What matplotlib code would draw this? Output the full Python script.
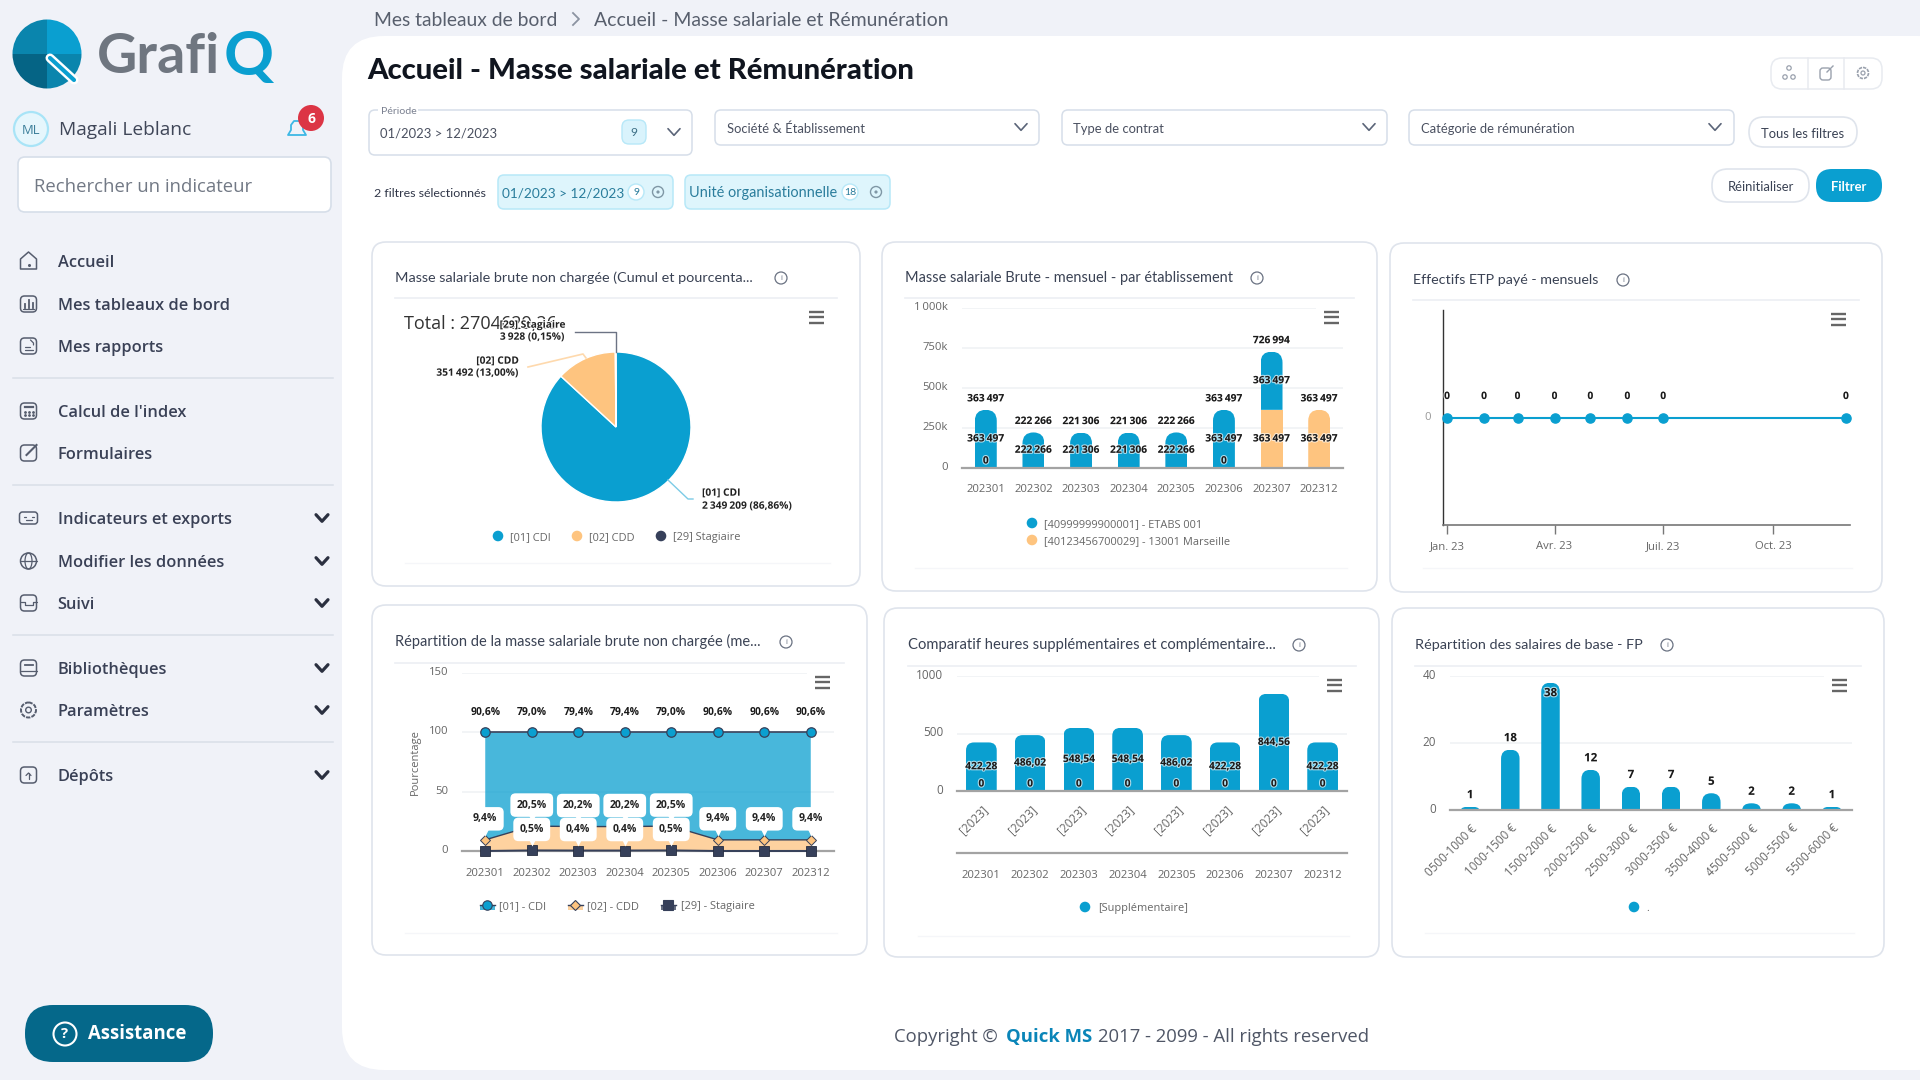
import datetime as dt
import matplotlib
matplotlib.use("Agg")
import matplotlib.pyplot as plt
import matplotlib.dates as mdates
import matplotlib.patheffects as pe
from matplotlib.patches import FancyBboxPatch, Circle, Rectangle, Wedge, Polygon
from matplotlib.path import Path
from matplotlib.transforms import ScaledTranslation

plt.rcParams['font.family'] = ['Open Sans', 'DejaVu Sans']

# ---------------- data ----------------
pie_labels = ["[01] CDI", "[02] CDD", "[29] Stagiaire"]
pie_values = [2349209, 351492, 3928]
pie_pcts = ["86,86%", "13,00%", "0,15%"]

months = ["202301", "202302", "202303", "202304", "202305", "202306", "202307", "202312"]
etab_001 = [363497, 222266, 221306, 221306, 222266, 363497, 363497, None]
etab_marseille = [0, None, None, None, None, 0, 363497, 363497]
etab_names = ["[40999999900001] - ETABS 001", "[40123456700029] - 13001 Marseille"]
mass_ticks = [0, 250000, 500000, 750000, 1000000]
mass_tick_labels = ["0", "250k", "500k", "750k", "1\u2009000k"]

etp_dates = [dt.date(2023, 1, 1), dt.date(2023, 2, 1), dt.date(2023, 3, 1), dt.date(2023, 4, 1),
             dt.date(2023, 5, 1), dt.date(2023, 6, 1), dt.date(2023, 7, 1), dt.date(2023, 12, 1)]
etp_values = [0, 0, 0, 0, 0, 0, 0, 0]
etp_tick_dates = [dt.date(2023, 1, 1), dt.date(2023, 4, 1), dt.date(2023, 7, 1), dt.date(2023, 10, 1)]
etp_tick_labels = ["Jan. 23", "Avr. 23", "Juil. 23", "Oct. 23"]

pct_cdi = [90.6, 79.0, 79.4, 79.4, 79.0, 90.6, 90.6, 90.6]
pct_cdd = [9.4, 20.5, 20.2, 20.2, 20.5, 9.4, 9.4, 9.4]
pct_sta = [0.0, 0.5, 0.4, 0.4, 0.5, 0.0, 0.0, 0.0]
pct_names = ["[01] - CDI", "[02] - CDD", "[29] - Stagiaire"]

hours_sup = [422.28, 486.02, 548.54, 548.54, 486.02, 422.28, 844.56, 422.28]
hours_comp = [0, 0, 0, 0, 0, 0, 0, 0]
hours_years = ["[2023]"] * 8

sal_bins = ["0500-1000 €", "1000-1500 €", "1500-2000 €", "2000-2500 €", "2500-3000 €",
            "3000-3500 €", "3500-4000 €", "4500-5000 €", "5000-5500 €", "5500-6000 €"]
sal_counts = [1, 18, 38, 12, 7, 7, 5, 2, 2, 1]

nav_items = [("Accueil", 261, False, 'home'), ("Mes tableaux de bord", 304, False, 'dash'),
             ("Mes rapports", 346, False, 'report'), ("Calcul de l'index", 411, False, 'calc'),
             ("Formulaires", 453, False, 'form'), ("Indicateurs et exports", 518, True, 'wide'),
             ("Modifier les données", 561, True, 'globe'), ("Suivi", 603, True, 'inbox'),
             ("Bibliothèques", 668, True, 'book'), ("Paramètres", 710, True, 'gear'),
             ("Dépôts", 775, True, 'depot')]
nav_seps = [378, 485, 635, 742]

# ---------------- style ----------------
BLUE, ORANGE, NAVY = '#0a9fd0', '#fec47f', '#36405a'
GREY, DARK, BG = '#666666', '#2f3547', '#f0f2f8'
UI = ['Lato', 'DejaVu Sans']
NUM = ['Open Sans', 'DejaVu Sans']
W, H = 1920, 1080
fig = plt.figure(figsize=(19.2, 10.8), dpi=100, facecolor=BG)
renderer = fig.canvas.get_renderer()


def px_axes(x0, x1, ytop, ybot, z=1):
    ax = fig.add_axes([x0 / W, 1 - ybot / H, (x1 - x0) / W, (ybot - ytop) / H], zorder=z)
    ax.patch.set_alpha(0)
    return ax


def full_axes(z):
    ax = fig.add_axes([0, 0, 1, 1], zorder=z)
    ax.set_xlim(0, W)
    ax.set_ylim(H, 0)
    ax.axis('off')
    ax.patch.set_alpha(0)
    return ax


bg = full_axes(0)
ov = full_axes(3)


def T(x, y, s, px=13, color=DARK, ha='left', va='center', weight='normal', family=UI, w=None, ax=ov, **kw):
    t = ax.text(x, y + px * 0.12, s, fontsize=px * 0.72, color=color, ha=ha, va=va, fontweight=weight,
                family=family, **kw)
    if w:
        cur = t.get_window_extent(renderer).width
        t.set_fontsize(t.get_fontsize() * w / cur)
    return t


def rbox(ax, x0, y0, x1, y1, r, fc='white', ec='none', lw=1, z=1):
    p = FancyBboxPatch((x0 + r, y0 + r), x1 - x0 - 2 * r, y1 - y0 - 2 * r,
                       boxstyle=f"round,pad={r},rounding_size={r}", fc=fc, ec=ec, lw=lw, zorder=z)
    ax.add_patch(p)
    return p


def chevron(x, y, s=5, color='#5a6478', lw=1.3, ax=ov):
    ax.plot([x - s, x, x + s], [y - s * 0.55, y + s * 0.55, y - s * 0.55], color=color, lw=lw, solid_capstyle='round')


def hamburger(x, y):
    ov.add_patch(Rectangle((x - 15, y - 13), 30, 26, fc='white', ec='none', zorder=2))
    for dy in (-5.5, 0, 5.5):
        ov.plot([x - 7.5, x + 7.5], [y + dy, y + dy], color='#666666', lw=1.7, zorder=3, solid_capstyle='butt')


def info(x, y):
    ov.add_patch(Circle((x, y), 6, fc='white', ec='#6a7282', lw=0.9))
    T(x, y - 0.5, "i", 8, '#6a7282', ha='center', family=NUM)


def card(x0, y0, x1, y1, title, tw, tx, ty, ix, sep, foot):
    rbox(bg, x0, y0, x1, y1, 14, ec='#dfe4ec', lw=1.2)
    T(tx, ty, title, 15, '#3a4254', w=tw)
    info(ix, ty + 2)
    bg.plot([tx, x1 - 23], [sep, sep], color='#eceff4', lw=1.2, zorder=2)
    bg.plot([tx + 10, x1 - 30], [foot, foot], color='#f5f6f9', lw=1, zorder=2)


def nav_icon(kind, y, c='#565d6e'):
    x = 28.5
    line = dict(color=c, lw=0.9, solid_capstyle='round')
    if kind == 'home':
        ov.add_patch(Polygon([(x - 8, y - 2), (x, y - 9), (x + 8, y - 2), (x + 8, y + 8), (x - 8, y + 8)],
                             closed=True, fc='none', ec=c, lw=1.1, joinstyle='round'))
        ov.plot([x], [y + 4], marker='o', ms=1.2, color=c)
    elif kind == 'wide':
        rbox(ov, x - 9, y - 6, x + 9, y + 6, 3, fc='none', ec=c, lw=1.1)
        ov.plot([x - 5, x - 3], [y - 1, y - 1], **line)
        ov.plot([x + 3, x + 5], [y - 1, y - 1], **line)
        ov.plot([x - 3, x + 3], [y + 2, y + 2], **line)
    elif kind == 'globe':
        ov.add_patch(Circle((x, y), 8, fc='none', ec=c, lw=1.1))
        ov.plot([x - 8, x + 8], [y, y], **line)
        ov.add_patch(matplotlib.patches.Ellipse((x, y), 7, 16, fc='none', ec=c, lw=0.9))
    elif kind == 'gear':
        ov.add_patch(Circle((x, y), 7.5, fc='none', ec=c, lw=1.4, ls=(0, (2.2, 0.6))))
        ov.add_patch(Circle((x, y), 2.8, fc='none', ec=c, lw=1))
    else:
        rbox(ov, x - 8, y - 8, x + 8, y + 8, 4, fc='none', ec=c, lw=1.1)
        if kind == 'dash':
            for dx, h in ((-4, 4), (0, 8), (4, 5)):
                ov.plot([x + dx, x + dx], [y + 4, y + 4 - h], color=c, lw=1.3)
            ov.plot([x - 5.5, x + 5.5], [y + 4.5, y + 4.5], **line)
        elif kind == 'report':
            ov.plot([x - 4, x + 1], [y + 1, y + 1], **line)
            ov.plot([x - 4, x + 4], [y + 4, y + 4], **line)
            ov.plot([x + 2, x + 5, x + 5], [y - 6, y - 3, y - 1], **line)
        elif kind == 'calc':
            ov.plot([x - 4, x + 4], [y - 4, y - 4], color=c, lw=1.6)
            for dx in (-4, 0, 4):
                for dy in (1, 4):
                    ov.plot([x + dx], [y + dy], marker='o', ms=1, color=c)
        elif kind == 'form':
            ov.plot([x - 2, x + 8], [y + 2, y - 8], color=c, lw=1.5)
            ov.add_patch(Rectangle((x + 1, y - 10), 9, 4, fc='none', ec='none'))
        elif kind == 'inbox':
            ov.plot([x - 8, x - 4, x - 4, x + 4, x + 4, x + 8], [y - 1, y - 1, y + 2, y + 2, y - 1, y - 1], **line)
        elif kind == 'book':
            ov.plot([x - 4, x + 4], [y - 3, y - 3], color=c, lw=1.3)
            ov.plot([x - 8, x + 8], [y + 3, y + 3], **line)
        elif kind == 'depot':
            ov.plot([x, x], [y + 4, y - 2], **line)
            ov.plot([x - 2.5, x, x + 2.5], [y + 0.5, y - 2, y + 0.5], **line)


def fmt(v):
    return f"{v:,}".replace(",", "\u2009")


def frc(v):
    return f"{v:.2f}".replace(".", ",")


def lab(ax, x, y, s, dy=0, px=10.2, color='#1a1a1a', halo=True):
    a = ax.annotate(s, (x, y), xytext=(0, dy * 0.72), textcoords='offset points', ha='center', va='center',
                    fontsize=px * 0.72, fontweight='bold', color=color, family=NUM, zorder=6)
    if halo:
        a.set_path_effects([pe.withStroke(linewidth=1.6, foreground=(1, 1, 1, 0.65))])
    return a


def round_top(ax, rect, r_px):
    x, y, w, h = rect.get_x(), rect.get_y(), rect.get_width(), rect.get_height()
    if h <= 0:
        return
    (a, b), (c, d) = ax.transData.transform([(0, 0), (1, 1)])
    rx = min(r_px / abs(c - a), w / 2)
    ry = min(r_px / abs(d - b), h)
    top = y + h
    verts = [(x, y), (x, top - ry), (x, top), (x + rx, top), (x + w - rx, top),
             (x + w, top), (x + w, top - ry), (x + w, y), (x, y)]
    codes = [Path.MOVETO, Path.LINETO, Path.CURVE3, Path.CURVE3, Path.LINETO,
             Path.CURVE3, Path.CURVE3, Path.LINETO, Path.CLOSEPOLY]
    rect.set_clip_path(Path(verts, codes), ax.transData)


def clean(ax, xpad=12, ypad=14, px=11.3, ydy=2):
    for k, s in ax.spines.items():
        s.set_visible(k == 'bottom')
    ax.spines['bottom'].set_color('#a3a3a3')
    ax.spines['bottom'].set_linewidth(1.6)
    ax.set_axisbelow(True)
    ax.grid(axis='y', color='#eff1f4', lw=1.1)
    ax.tick_params(axis='both', length=0, labelsize=px * 0.72, labelcolor=GREY)
    ax.tick_params(axis='x', pad=xpad * 0.72)
    ax.tick_params(axis='y', pad=ypad * 0.72)
    off = ScaledTranslation(0, ydy / 100, fig.dpi_scale_trans)
    for l in ax.get_yticklabels():
        l.set_transform(l.get_transform() + off)


def dot_legend(items, px=11):
    for x, y, color, tx, s in items:
        ov.add_patch(Circle((x, y), 5.3, fc=color, ec='none'))
        T(tx, y, s, px, GREY, family=NUM)


# ---------------- page frame ----------------
rbox(bg, 342, 36, 1960, 1070, 42, fc='white', z=1)

# sidebar: logo
for th1, th2, c in [(0, 90, BLUE), (90, 180, '#0a85ad'), (180, 270, '#056485'), (270, 360, '#0a85ad')]:
    bg.add_patch(Wedge((47, 54), 34.5, -th2, -th1, fc=c, ec='none', zorder=2))
bg.plot([50, 74], [58, 80], color='white', lw=6.5, solid_capstyle='round', zorder=3)
bg.plot([50, 74], [58, 80], color=BLUE, lw=3, solid_capstyle='round', zorder=3)
T(97, 50, "Grafi", 58, '#6f7680', weight='bold', w=123)
T(224, 50, "Q", 58, BLUE, weight='bold', w=50)

# sidebar: user
ov.add_patch(Circle((31, 129), 17, fc='#e6f6fc', ec='#a8e4f7', lw=1.6))
T(31, 128.5, "ML", 13, '#3c7f9a', ha='center', family=NUM)
T(59, 127.5, "Magali Leblanc", 20, '#3f4658', family=NUM, w=133)
ov.add_patch(Polygon([(288, 135), (291, 130), (291, 125), (294, 121), (300, 121), (303, 125), (303, 130), (306, 135)],
                     closed=True, fc='none', ec='#3db8e5', lw=1.3, joinstyle='round'))
ov.add_patch(Circle((311, 118), 13, fc='#dc3545', ec='none'))
T(311, 117, "6", 14, 'white', ha='center', weight='bold', family=NUM)

# sidebar: search
rbox(bg, 18, 157, 331, 212, 7, ec='#d6dee9', lw=1.2, z=2)
T(34, 184.5, "Rechercher un indicateur", 20, '#727985', family=NUM, w=218)

# sidebar: navigation
for name, y, has_sub, kind in nav_items:
    T(57.5, y, name, 16.4, '#3a4156', weight='semibold', family=NUM)
    nav_icon(kind, y)
    if has_sub:
        chevron(322, y, 6, '#2b3040', 2.3)
for y in nav_seps:
    bg.plot([13, 333], [y, y], color='#d9dfe8', lw=1.1, zorder=2)

# sidebar: assistance
rbox(bg, 25, 1005, 213, 1062, 28, fc='#05688a', z=2)
ov.add_patch(Circle((65, 1034), 11.5, fc='none', ec='white', lw=1.5))
T(65, 1032.5, "?", 15, 'white', ha='center', weight='bold', family=NUM)
T(88, 1032, "Assistance", 19, 'white', weight='bold', family=NUM, w=98)

# header
T(374, 18, "Mes tableaux de bord", 19, '#585f6d', w=184)
ov.plot([573, 579, 573], [13, 19, 25], color='#8b93a1', lw=1.3)
T(594, 18, "Accueil - Masse salariale et Rémunération", 19, '#585f6d', w=354)
T(367, 68, "Accueil - Masse salariale et Rémunération", 28, '#10151f', weight='black', w=548)

# filters
for x0, x1, y1, s, tx, ty, cx, cy in [
    (369, 692, 155, "01/2023 > 12/2023", 380, 132, 674, 132),
    (715, 1039, 145, "Société & Établissement", 727, 127, 1021, 127),
    (1062, 1387, 145, "Type de contrat", 1073, 127, 1369, 127),
    (1409, 1734, 145, "Catégorie de rémunération", 1421, 127, 1715, 127)]:
    rbox(bg, x0, 110, x1, y1, 6, ec='#d6dee9', lw=1.1, z=2)
    T(tx, ty, s, 13, '#4a5060')
    chevron(cx, cy, 6, '#5a6478', 1.2)
ov.add_patch(Rectangle((378, 106), 40, 8, fc='white', ec='none'))
T(381, 110, "Période", 10.5, '#7a8090')
rbox(ov, 622, 120, 646, 144, 7, fc='#d9f3fc', ec='#b7e8f8', lw=1)
T(634, 131.5, "9", 12, '#3c6f85', ha='center')
rbox(bg, 1749, 117, 1857, 147, 15, ec='#dfe4ec', lw=1.2, z=2)
T(1803, 132, "Tous les filtres", 13, '#3a4254', ha='center')
rbox(bg, 1712, 169, 1809, 202, 16, ec='#dfe4ec', lw=1.2, z=2)
T(1760.5, 185, "Réinitialiser", 13, '#3a4254', ha='center')
rbox(bg, 1816, 169, 1882, 202, 16, fc=BLUE, z=2)
T(1849, 185, "Filtrer", 13, 'white', ha='center', weight='bold')
rbox(bg, 1771, 58, 1882, 89, 11, ec='#e8ebf0', lw=1.1, z=2)
for x in (1808, 1844):
    bg.plot([x, x], [58, 89], color='#e8ebf0', lw=1.1, zorder=3)
for cx, cy in [(1789, 68), (1785, 77), (1793, 77)]:
    ov.add_patch(Circle((cx, cy), 2.2, fc='none', ec='#9aa1ad', lw=0.9))
rbox(ov, 1820, 68, 1831, 80, 3, fc='none', ec='#9aa1ad', lw=1)
ov.plot([1827, 1833], [72, 66], color='#9aa1ad', lw=1)
ov.add_patch(Circle((1863, 73), 5.5, fc='none', ec='#9aa1ad', lw=1.2, ls=(0, (2, 0.6))))
ov.add_patch(Circle((1863, 73), 2, fc='none', ec='#9aa1ad', lw=0.9))

# chips
T(374, 192, "2 filtres sélectionnés", 12.5, '#2f3547', w=113)
for x0, x1, s, tx, bx, b, xx in [(498, 673, "01/2023 > 12/2023", 502, 636, "9", 658),
                                 (685, 890, "Unité organisationnelle", 689, 850, "18", 876)]:
    rbox(bg, x0, 175, x1, 209, 6, fc='#def5fc', ec='#b7e8f8', lw=1.1, z=2)
    T(tx, 191.5, s, 14, '#2a7d9c', w=(122 if s[0] == '0' else 148))
    ov.add_patch(Circle((bx, 192), 8, fc='white', ec='#b7e8f8', lw=1))
    T(bx, 191, b, 10.5, '#2a7d9c', ha='center')
    ov.add_patch(Circle((xx, 192), 5.5, fc='none', ec='#7f97a5', lw=1))
    ov.add_patch(Circle((xx, 192), 1.6, fc='#7f97a5', ec='none'))

# cards
card(372, 242, 860, 586, "Masse salariale brute non chargée (Cumul et pourcenta...", 359, 395, 276, 781, 298, 563)
card(882, 242, 1377, 591, "Masse salariale Brute - mensuel - par établissement", 328, 905, 276, 1257, 298, 568)
card(1390, 243, 1882, 592, "Effectifs ETP payé - mensuels", 187, 1413, 278, 1623, 300, 568)
card(372, 605, 867, 955, "Répartition de la masse salariale brute non chargée (me...", 365, 395, 640, 786, 663, 933)
card(884, 608, 1379, 957, "Comparatif heures supplémentaires et complémentaire...", 366, 908, 643, 1299, 666, 936)
card(1392, 608, 1884, 957, "Répartition des salaires de base - FP", 229, 1415, 643, 1667, 666, 933)

# ---------------- chart 1: pie ----------------
ax1 = px_axes(541, 691, 352, 502)
ax1.pie(pie_values, colors=[BLUE, ORANGE, NAVY], startangle=90, counterclock=False, radius=1,
        wedgeprops=dict(edgecolor='white', linewidth=1))
ax1.set_xlim(-1, 1)
ax1.set_ylim(-1, 1)
T(404, 322, f"Total : {sum(pie_values)},26", 18, '#333333', family=NUM, ax=ov)
ov.plot([668, 688, 693], [480, 499, 499], color='#7ccbe6', lw=1)
ov.plot([528, 583, 586], [367, 354, 358], color='#fed9ad', lw=1.2)
ov.plot([575, 616, 616], [332, 332, 352], color='#6c7384', lw=1)
halo = [pe.withStroke(linewidth=1.5, foreground='white')]
LB = dict(color='#222222', weight='bold', family=NUM, path_effects=halo)
T(702, 492, pie_labels[0], 10.2, **LB)
T(702, 505, f"{fmt(pie_values[0])} ({pie_pcts[0]})", 10.2, **LB)
T(519, 360, pie_labels[1], 10.2, ha='right', **LB)
T(519, 372, f"{fmt(pie_values[1])} ({pie_pcts[1]})", 10.2, ha='right', **LB)
T(566, 324, pie_labels[2], 10.2, ha='right', **LB)
T(565, 336, f"{fmt(pie_values[2])} ({pie_pcts[2]})", 10.2, ha='right', **LB)
dot_legend([(498, 536, BLUE, 510, pie_labels[0]), (577, 536, ORANGE, 589, pie_labels[1]),
            (661, 536, NAVY, 673, pie_labels[2])])
hamburger(816, 317)

# ---------------- chart 2: stacked bars ----------------
ax2 = px_axes(962, 1343, 308, 468)
xs = list(range(len(months)))
b_vals = [v or 0 for v in etab_001]
o_vals = [v or 0 for v in etab_marseille]
ax2.set_xlim(-0.5, 7.5)
ax2.set_ylim(0, 1000000)
ax2.set_xticks(xs, months)
ax2.set_yticks(mass_ticks, mass_tick_labels)
clean(ax2, xpad=15.5, ypad=14)
bo = ax2.bar(xs, o_vals, width=0.46, color=ORANGE, zorder=2)
bb = ax2.bar(xs, b_vals, width=0.46, bottom=o_vals, color=BLUE, zorder=2)
for i in xs:
    if b_vals[i] > 0:
        round_top(ax2, bb[i], 11)
    else:
        round_top(ax2, bo[i], 11)
    tot = b_vals[i] + o_vals[i]
    lab(ax2, i, tot, fmt(tot), dy=11)
    if etab_001[i] is not None:
        lab(ax2, i, o_vals[i] + b_vals[i] / 2, fmt(etab_001[i]))
    if etab_marseille[i] is not None:
        if etab_marseille[i] == 0:
            lab(ax2, i, 0, "0", dy=7)
        else:
            lab(ax2, i, o_vals[i] / 2, fmt(etab_marseille[i]))
dot_legend([(1032, 523, BLUE, 1044, etab_names[0]), (1032, 540, ORANGE, 1044, etab_names[1])])
hamburger(1331, 317)

# ---------------- chart 3: line ----------------
ax3 = px_axes(1443, 1850, 310, 525)
d0, d1 = etp_dates[0], etp_dates[-1]
ax3.set_xlim(mdates.date2num(d0) - 3.4, mdates.date2num(d1) + 3.4)
ax3.set_ylim(-1, 1)
ax3.plot(etp_dates, etp_values, color=BLUE, lw=1.5, marker='o', ms=6.6, mec=BLUE, zorder=3, clip_on=False)
ax3.set_xticks(etp_tick_dates, etp_tick_labels)
ax3.set_yticks([0], ["0"])
for k, s in ax3.spines.items():
    s.set_visible(k in ('left', 'bottom'))
ax3.spines['left'].set_color('#333333')
ax3.spines['left'].set_linewidth(1)
ax3.spines['bottom'].set_color('#777777')
ax3.spines['bottom'].set_linewidth(1.2)
ax3.tick_params(axis='x', length=6.5, color='#777777', width=1, labelsize=8.1, labelcolor=GREY, pad=5)
ax3.tick_params(axis='y', length=0, labelsize=8.1, labelcolor='#999999', pad=9)
off3 = ScaledTranslation(0, 2 / 100, fig.dpi_scale_trans)
for l in ax3.get_yticklabels():
    l.set_transform(l.get_transform() + off3)
for d, v in zip(etp_dates, etp_values):
    lab(ax3, d, v, str(v), dy=21)
hamburger(1838, 319)

# ---------------- chart 4: percent area ----------------
ax4 = px_axes(462, 834, 673, 851)
ax4.set_xlim(-0.5, 7.5)
ax4.set_ylim(0, 150)
ax4.set_xticks(xs, months)
ax4.set_yticks([0, 50, 100, 150], ["0", "50", "100", "150"])
clean(ax4, xpad=17, ypad=14)
ax4.stackplot(xs, pct_sta, pct_cdd, pct_cdi, colors=[NAVY, ORANGE, BLUE], alpha=0.75, zorder=2, linewidth=0)
top_sta = pct_sta
top_cdd = [a + b for a, b in zip(pct_sta, pct_cdd)]
top_cdi = [a + b for a, b in zip(top_cdd, pct_cdi)]
ax4.plot(xs, top_cdi, color=NAVY, lw=1.2, marker='o', ms=6.8, mfc=BLUE, mec=NAVY, mew=0.9, zorder=3)
ax4.plot(xs, top_cdd, color=NAVY, lw=1.0, marker='D', ms=4.6, mfc=ORANGE, mec=NAVY, mew=0.7, zorder=3)
ax4.plot(xs, top_sta, color=NAVY, lw=1.4, marker='s', ms=6.8, mfc=NAVY, mec='#262d40', mew=0.6, zorder=3,
         clip_on=False)
ax4.set_ylabel("Pourcentage", fontsize=8, color=GREY)
ax4.yaxis.set_label_coords((421 - 462) / 372, (851 - 762) / 178)


def callout(ax, x, y, s, dy):
    a = ax.annotate(s, (x, y), xytext=(0, dy * 0.72), textcoords='offset points', ha='center', va='center',
                    fontsize=7.5, fontweight='bold', color='#222222', family=NUM, zorder=8,
                    bbox=dict(boxstyle='round,pad=0.6,rounding_size=0.5', fc='white', ec='none'))
    tip = ScaledTranslation(0, (dy - 14) / 100, fig.dpi_scale_trans) + ax.transData
    ax.plot([x], [y], marker='v', ms=6, mfc='white', mec='none', transform=tip, zorder=7, clip_on=False)
    return a


for i in xs:
    lab(ax4, i, top_cdi[i], f"{pct_cdi[i]:.1f}".replace(".", ",") + "%", dy=20, halo=False)
    callout(ax4, i, top_cdd[i], f"{pct_cdd[i]:.1f}".replace(".", ",") + "%", 21)
    if pct_sta[i] > 0:
        callout(ax4, i, top_sta[i], f"{pct_sta[i]:.1f}".replace(".", ",") + "%", 21)
for x, tx, fc, mk, ms, mf, s in [(487, 499, BLUE, 'o', 6.8, BLUE, pct_names[0]),
                                 (575, 587, ORANGE, 'D', 4.6, ORANGE, pct_names[1]),
                                 (668, 681, NAVY, 's', 6.8, NAVY, pct_names[2])]:
    ov.add_patch(Rectangle((x - 7.5, 905), 15, 5, fc=fc, alpha=0.75, ec='none'))
    ov.plot([x - 7.5, x + 7.5], [905, 905], color=NAVY, lw=1)
    ov.plot([x], [905], marker=mk, ms=ms, mfc=mf, mec=NAVY, mew=0.8)
    T(tx, 905.5, s, 11, GREY, family=NUM)
hamburger(822, 682)

# ---------------- chart 5: hours ----------------
ax5 = px_axes(957, 1347, 676, 791)
ax5.set_xlim(-0.5, 7.5)
ax5.set_ylim(0, 1000)
ax5.set_xticks(xs, hours_years, rotation=45, ha='right', va='top', rotation_mode='anchor')
ax5.set_yticks([0, 500, 1000], ["0", "500", "1000"])
clean(ax5, xpad=12, ypad=14, px=11.8)
b5 = ax5.bar(xs, hours_sup, width=0.63, color=BLUE, zorder=2)
for i in xs:
    round_top(ax5, b5[i], 8)
    lab(ax5, i, hours_sup[i] / 2, frc(hours_sup[i]))
    lab(ax5, i, hours_comp[i], str(hours_comp[i]), dy=7)
    ax5.annotate(months[i], (i, 0), xytext=(0, -84 * 0.72), textcoords='offset points', ha='center', va='center',
                 fontsize=8.1, color=GREY, family=NUM, annotation_clip=False)
ov.plot([957, 1347], [853, 853], color='#a3a3a3', lw=1.6)
dot_legend([(1085, 907, BLUE, 1098, "[Supplémentaire]")])
hamburger(1334, 685)

# ---------------- chart 6: salaries ----------------
ax6 = px_axes(1450, 1852, 676, 810)
x6 = list(range(len(sal_bins)))
ax6.set_xlim(-0.5, 9.5)
ax6.set_ylim(0, 40)
ax6.set_xticks(x6, sal_bins, rotation=45, ha='right', va='top', rotation_mode='anchor')
ax6.set_yticks([0, 20, 40], ["0", "20", "40"])
clean(ax6, xpad=12, ypad=14, px=11.6)
b6 = ax6.bar(x6, sal_counts, width=0.46, color=BLUE, zorder=2)
for i, v in enumerate(sal_counts):
    round_top(ax6, b6[i], 9)
    if v >= max(sal_counts):
        lab(ax6, i, v, str(v), dy=-11, px=11.5)
    else:
        lab(ax6, i, v, str(v), dy=11, px=11.5)
dot_legend([(1634, 907, BLUE, 1646, ".")])
hamburger(1839, 685)

# footer
T(894, 1035, "Copyright ©", 18.5, '#4f5666', family=NUM)
T(1006, 1035, "Quick MS", 18.5, '#0a85b8', weight='bold', family=NUM)
T(1098, 1035, "2017 - 2099 - All rights reserved", 18.5, '#4f5666', family=NUM, w=272)

fig.savefig("out.png", dpi=100, facecolor=BG)
